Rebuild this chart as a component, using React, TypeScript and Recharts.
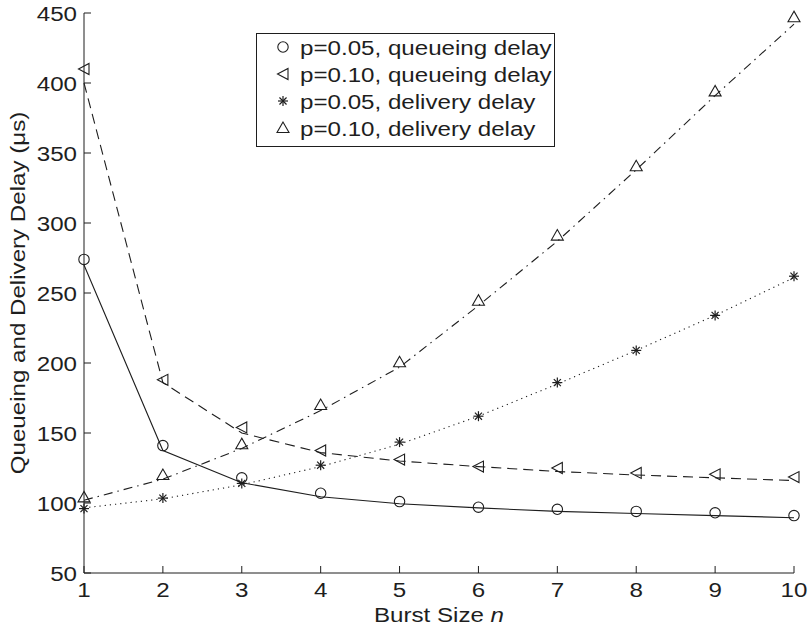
import React from 'react';
import { ComposedChart, Line, XAxis, YAxis, Legend } from 'recharts';

// ---- data ----
const burstSizes = [1, 2, 3, 4, 5, 6, 7, 8, 9, 10];
const xTicks = [1, 2, 3, 4, 5, 6, 7, 8, 9, 10];
const yTicks = [50, 100, 150, 200, 250, 300, 350, 400, 450];

// measured points (markers)
const queue05Points = [274, 141, 118, 107, 101, 97, 95.5, 94, 93, 91];
const queue10Points = [410, 188, 154, 137.5, 131, 126, 125, 121.5, 120.5, 118.5];
const deliv05Points = [96, 103.5, 114, 127, 143.5, 162, 186, 209, 234, 262];
const deliv10Points = [104, 120, 142, 170, 200.5, 244.5, 291, 340.5, 394, 447];

// analytical curves (lines)
const queue05Curve = [270, 137.5, 114.5, 104.5, 99.5, 96.5, 94, 92.5, 91, 89.5];
const queue10Curve = [400, 186, 150, 136, 130, 126, 122.5, 120, 118, 116];
const deliv05Curve = [96.5, 103, 113, 126, 142, 162, 185, 209, 234, 261];
const deliv10Curve = [102, 117, 139, 166, 197, 241, 287, 338, 391, 442];

const seriesLabels = [
  'p=0.05, queueing delay',
  'p=0.10, queueing delay',
  'p=0.05, delivery delay',
  'p=0.10, delivery delay',
];

const rows = burstSizes.map((x, i) => ({
  x,
  q05p: queue05Points[i],
  q10p: queue10Points[i],
  d05p: deliv05Points[i],
  d10p: deliv10Points[i],
  q05c: queue05Curve[i],
  q10c: queue10Curve[i],
  d05c: deliv05Curve[i],
  d10c: deliv10Curve[i],
}));

// ---- style ----
const INK = '#1e1e1e';
const FONT = "'Liberation Sans', Arial, Helvetica, sans-serif";
const FS = 21;
const SX = 1.15;
const TICK = 7;

type Kind = 'circle' | 'left' | 'star' | 'up';

const Marker = ({ cx, cy, kind }: { cx: number; cy: number; kind: Kind }) => {
  if (cx == null || cy == null || isNaN(cx) || isNaN(cy)) return <g />;
  const common = { fill: 'none', stroke: INK, strokeWidth: 1.1 };
  if (kind === 'circle') return <circle cx={cx} cy={cy} r={5.2} {...common} />;
  if (kind === 'left')
    return (
      <polygon
        points={`${cx - 5.5},${cy} ${cx + 5},${cy - 5.5} ${cx + 5},${cy + 5.5}`}
        {...common}
      />
    );
  if (kind === 'up')
    return (
      <polygon
        points={`${cx},${cy - 6} ${cx - 6},${cy + 4.5} ${cx + 6},${cy + 4.5}`}
        {...common}
      />
    );
  const r = 5;
  const d = r * 0.707;
  return (
    <g stroke={INK} strokeWidth={1.2}>
      <line x1={cx - r} y1={cy} x2={cx + r} y2={cy} />
      <line x1={cx} y1={cy - r} x2={cx} y2={cy + r} />
      <line x1={cx - d} y1={cy - d} x2={cx + d} y2={cy + d} />
      <line x1={cx - d} y1={cy + d} x2={cx + d} y2={cy - d} />
    </g>
  );
};

const dotOf = (kind: Kind) => (p: any) => (
  <Marker key={`${kind}-${p.index}`} cx={p.cx} cy={p.cy} kind={kind} />
);

// bottom axis: x,y = axis line point; draw inward tick + label
const XTick = (props: any) => {
  const { x, y, payload } = props;
  return (
    <g>
      <line x1={x} y1={y} x2={x} y2={y - TICK} stroke={INK} strokeWidth={1} />
      <text
        transform={`translate(${x},${y + 24}) scale(${SX},1)`}
        textAnchor="middle"
        fontSize={FS}
        fontFamily={FONT}
        fill={INK}
      >
        {payload.value}
      </text>
    </g>
  );
};

// top axis: tick only
const TopTick = (props: any) => {
  const { x, y } = props;
  return <line x1={x} y1={y} x2={x} y2={y + TICK} stroke={INK} strokeWidth={1} />;
};

// left axis
const YTick = (props: any) => {
  const { x, y, payload } = props;
  return (
    <g>
      <line x1={x} y1={y} x2={x + TICK} y2={y} stroke={INK} strokeWidth={1} />
      <text
        transform={`translate(${x - 7},${y + 7.5}) scale(${SX},1)`}
        textAnchor="end"
        fontSize={FS}
        fontFamily={FONT}
        fill={INK}
      >
        {payload.value}
      </text>
    </g>
  );
};

// right axis: tick only
const RightTick = (props: any) => {
  const { x, y } = props;
  return <line x1={x} y1={y} x2={x - TICK} y2={y} stroke={INK} strokeWidth={1} />;
};

const kinds: Kind[] = ['circle', 'left', 'star', 'up'];

const LegendBox = () => (
  <svg width={300} height={115} style={{ display: 'block' }}>
    <rect x={0.5} y={0.5} width={298} height={113} fill="#fff" stroke={INK} strokeWidth={1} />
    {seriesLabels.map((label, i) => {
      const cy = 14 + i * 27;
      return (
        <g key={label}>
          <Marker cx={27} cy={cy} kind={kinds[i]} />
          <text
            transform={`translate(44,${cy + 7.5}) scale(${SX},1)`}
            fontSize={FS}
            fontFamily={FONT}
            fill={INK}
          >
            {label}
          </text>
        </g>
      );
    })}
  </svg>
);

const YLabel = (props: any) => {
  const vb = props.viewBox || { x: 0, y: 13, width: 84, height: 560 };
  const cy = vb.y + vb.height / 2;
  return (
    <text
      transform={`translate(25,${cy}) rotate(-90) scale(${SX},1)`}
      textAnchor="middle"
      fontSize={FS}
      fontFamily={FONT}
      fill={INK}
    >
      Queueing and Delivery Delay (μs)
    </text>
  );
};

const XLabel = (props: any) => {
  const vb = props.viewBox || { x: 84, y: 573, width: 710, height: 55 };
  const cx = vb.x + vb.width / 2;
  return (
    <text
      transform={`translate(${cx},${vb.y + 49}) scale(${SX},1)`}
      textAnchor="middle"
      fontSize={FS}
      fontFamily={FONT}
      fill={INK}
    >
      Burst Size <tspan fontStyle="italic">n</tspan>
    </text>
  );
};

export default function App() {
  return (
    <div style={{ position: 'absolute', left: 0, top: 0, width: 808, height: 628, overflow: 'hidden' }}>
      <ComposedChart
        width={808}
        height={628}
        data={rows}
        margin={{ top: 13, right: 14, bottom: 0, left: 0 }}
      >
        <XAxis
          xAxisId="b"
          dataKey="x"
          type="number"
          domain={[1, 10]}
          ticks={xTicks}
          interval={0}
          height={55}
          tickSize={0}
          tickMargin={0}
          tickLine={false}
          tick={<XTick />}
          stroke={INK}
          label={<XLabel />}
        />
        <XAxis
          xAxisId="t"
          orientation="top"
          dataKey="x"
          type="number"
          domain={[1, 10]}
          ticks={xTicks}
          interval={0}
          height={0}
          tickSize={0}
          tickMargin={0}
          tickLine={false}
          tick={<TopTick />}
          stroke={INK}
        />
        <YAxis
          yAxisId="l"
          type="number"
          domain={[50, 450]}
          ticks={yTicks}
          interval={0}
          width={84}
          tickSize={0}
          tickMargin={0}
          tickLine={false}
          tick={<YTick />}
          stroke={INK}
          label={<YLabel />}
        />
        <YAxis
          yAxisId="r"
          orientation="right"
          type="number"
          domain={[50, 450]}
          ticks={yTicks}
          interval={0}
          width={0}
          tickSize={0}
          tickMargin={0}
          tickLine={false}
          tick={<RightTick />}
          stroke={INK}
        />
        <Legend
          layout="vertical"
          align="center"
          verticalAlign="middle"
          wrapperStyle={{ position: 'absolute', left: 256, top: 33, width: 300, height: 115 }}
          content={() => <LegendBox />}
        />
        {/* hidden series so the top/right frame axes have data */}
        <Line xAxisId="t" yAxisId="r" dataKey="q05c" stroke="none" dot={false} legendType="none" isAnimationActive={false} />

        {/* curves */}
        <Line xAxisId="b" yAxisId="l" dataKey="q05c" type="linear" stroke={INK} strokeWidth={1.1} dot={false} legendType="none" isAnimationActive={false} />
        <Line xAxisId="b" yAxisId="l" dataKey="q10c" type="linear" stroke={INK} strokeWidth={1.1} strokeDasharray="10 6" dot={false} legendType="none" isAnimationActive={false} />
        <Line xAxisId="b" yAxisId="l" dataKey="d05c" type="linear" stroke={INK} strokeWidth={1.1} strokeDasharray="1.2 4" dot={false} legendType="none" isAnimationActive={false} />
        <Line xAxisId="b" yAxisId="l" dataKey="d10c" type="linear" stroke={INK} strokeWidth={1.1} strokeDasharray="9 5 1.5 5" dot={false} legendType="none" isAnimationActive={false} />

        {/* measured markers */}
        <Line xAxisId="b" yAxisId="l" dataKey="q05p" stroke="none" dot={dotOf('circle')} activeDot={false} isAnimationActive={false} />
        <Line xAxisId="b" yAxisId="l" dataKey="q10p" stroke="none" dot={dotOf('left')} activeDot={false} isAnimationActive={false} />
        <Line xAxisId="b" yAxisId="l" dataKey="d05p" stroke="none" dot={dotOf('star')} activeDot={false} isAnimationActive={false} />
        <Line xAxisId="b" yAxisId="l" dataKey="d10p" stroke="none" dot={dotOf('up')} activeDot={false} isAnimationActive={false} />
      </ComposedChart>
    </div>
  );
}
